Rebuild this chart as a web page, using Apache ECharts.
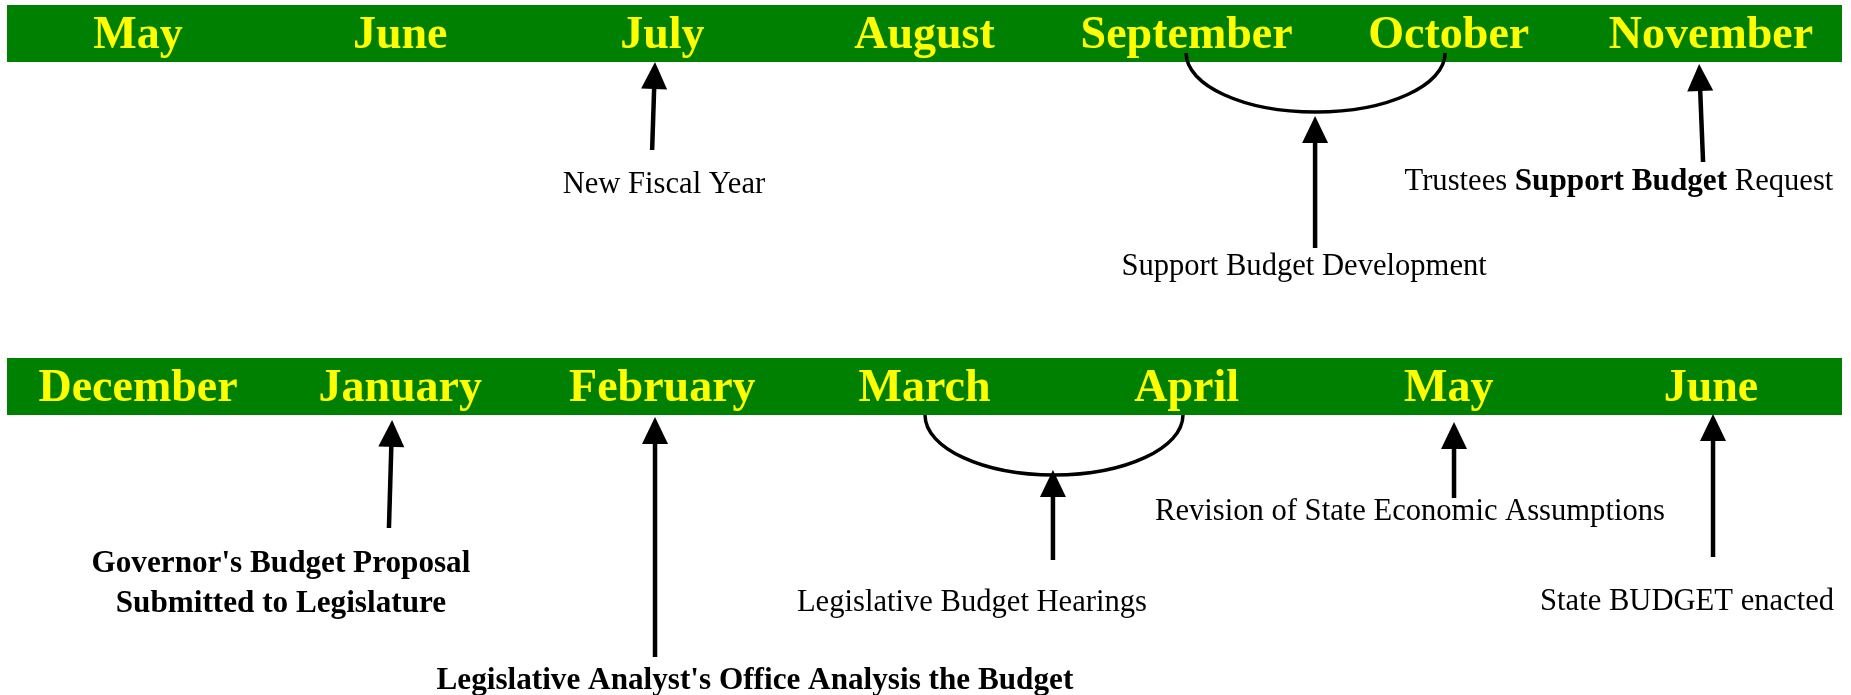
<!DOCTYPE html>
<html>
<head>
<meta charset="utf-8">
<script src="https://cdn.jsdelivr.net/npm/echarts@6/dist/echarts.min.js"></script>
<style>
html,body{margin:0;padding:0;background:#fff;}
#chart{width:1851px;height:695px;}
</style>
</head>
<body>
<div id="chart"></div>
<script>
// ---- data ----
const topMonths = ['May', 'June', 'July', 'August', 'September', 'October', 'November'];
const bottomMonths = ['December', 'January', 'February', 'March', 'April', 'May', 'June'];
const bandDepth = 57;

// arrows: [xTail (month index), yTail (depth), xTip, yTip]
const topArrows = [
  [1.961, 145, 1.972, 57],
  [4.49, 243, 4.49, 111],
  [5.97, 157, 5.955, 59]
];
const bottomArrows = [
  [0.957, 170, 0.969, 62],
  [1.972, 299, 1.972, 59],
  [3.49, 202, 3.49, 112],
  [5.02, 140, 5.02, 64],
  [6.008, 199, 6.008, 56]
];
// brackets: [xStart, xEnd, yTop, yBottom]
const topBrackets = [[3.998, 4.986, 48, 107]];
const bottomBrackets = [[3.002, 3.986, 57, 117]];
// labels: [x, y, text]
const topLabels = [
  [2.006, 178, 'New Fiscal Year'],
  [4.448, 260, 'Support Budget Development'],
  [5.649, 175, 'Trustees {b|Support Budget} Request']
];
const bottomLabels = [
  [0.545, 224, "{b|Governor's Budget Proposal}\n{b|Submitted to Legislature}"],
  [2.353, 321, "{b|Legislative Analyst's Office Analysis the Budget}"],
  [3.181, 243, 'Legislative Budget Hearings'],
  [4.852, 152, 'Revision of State Economic Assumptions'],
  [5.909, 242, 'State BUDGET enacted']
];

// ---- styles ----
const FONT = "'Liberation Serif', 'Times New Roman', serif";
const GREEN = '#008000';
const YELLOW = '#FFFF00';

function bandItem(params, api) {
  const a = api.coord([-0.5, 0]);
  const b = api.coord([6.5, api.value(0)]);
  return { type: 'rect', shape: { x: a[0], y: a[1], width: b[0] - a[0], height: b[1] - a[1] },
    style: { fill: GREEN } };
}

function arrowItem(params, api) {
  const t = api.coord([api.value(0), api.value(1)]);
  const h = api.coord([api.value(2), api.value(3)]);
  const dx = h[0] - t[0], dy = h[1] - t[1];
  const len = Math.hypot(dx, dy);
  const ux = dx / len, uy = dy / len;
  const L = 27, W = 13;
  const bx = h[0] - ux * L, by = h[1] - uy * L;
  return {
    type: 'group',
    children: [
      { type: 'line', shape: { x1: t[0], y1: t[1], x2: bx + ux * 3, y2: by + uy * 3 },
        style: { stroke: '#000', lineWidth: 4.5 } },
      { type: 'polygon', shape: { points: [[h[0], h[1]], [bx - uy * W, by + ux * W], [bx + uy * W, by - ux * W]] },
        style: { fill: '#000' } }
    ]
  };
}

function bracketItem(params, api) {
  const p1 = api.coord([api.value(0), api.value(2)]);
  const p2 = api.coord([api.value(1), api.value(2)]);
  const pb = api.coord([api.value(0), api.value(3)]);
  const x1 = p1[0], x2 = p2[0], y0 = p1[1], yb = pb[1];
  const cx = (x1 + x2) / 2, rx = (x2 - x1) / 2, ry = yb - y0, k = 0.5523;
  const d = 'M' + x1 + ' ' + y0 +
    ' C' + x1 + ' ' + (y0 + k * ry) + ' ' + (cx - k * rx) + ' ' + yb + ' ' + cx + ' ' + yb +
    ' C' + (cx + k * rx) + ' ' + yb + ' ' + x2 + ' ' + (y0 + k * ry) + ' ' + x2 + ' ' + y0;
  return { type: 'path', shape: { pathData: d }, style: { stroke: '#000', fill: 'none', lineWidth: 3.5 } };
}

function makeLabelItem(list) {
  return function (params, api) {
    const p = api.coord([api.value(0), api.value(1)]);
    return {
      type: 'text', x: p[0], y: p[1] + 2,
      style: {
        text: list[params.dataIndex][2],
        fill: '#000',
        fontFamily: FONT, fontSize: 30.6, lineHeight: 40,
        align: 'center', verticalAlign: 'middle',
        rich: {
          b: { fontFamily: FONT, fontSize: 31.2, fontWeight: 'bold', fill: '#000', lineHeight: 40 }
        }
      }
    };
  };
}

function rowSeries(gridIdx, months, arrows, brackets, labels) {
  const catAxis = gridIdx * 2, valAxis = gridIdx * 2 + 1;
  return [
    {
      type: 'custom', xAxisIndex: valAxis, yAxisIndex: gridIdx, z: 1, silent: true,
      renderItem: bandItem, data: [[bandDepth]], encode: { y: 0 }
    },
    {
      type: 'bar', xAxisIndex: catAxis, yAxisIndex: gridIdx, z: 3,
      data: months.map(() => bandDepth),
      barCategoryGap: '0%', silent: true,
      itemStyle: { color: 'rgba(0,0,0,0)' },
      label: {
        show: true, position: 'inside', formatter: '{b}', offset: [0, 3],
        color: YELLOW, fontFamily: FONT, fontWeight: 'bold', fontSize: 46
      }
    },
    {
      type: 'custom', xAxisIndex: valAxis, yAxisIndex: gridIdx, z: 5, silent: true,
      renderItem: bracketItem, data: brackets, encode: { x: [0, 1], y: [2, 3] }
    },
    {
      type: 'custom', xAxisIndex: valAxis, yAxisIndex: gridIdx, z: 5, silent: true,
      renderItem: arrowItem, data: arrows, encode: { x: [0, 2], y: [1, 3] }
    },
    {
      type: 'custom', xAxisIndex: valAxis, yAxisIndex: gridIdx, z: 5, silent: true,
      renderItem: makeLabelItem(labels), data: labels.map(l => [l[0], l[1]]), encode: { x: 0, y: 1 }
    }
  ];
}

const chart = echarts.init(document.getElementById('chart'), null, { renderer: 'canvas' });
chart.setOption({
  backgroundColor: '#fff',
  animation: false,
  grid: [
    { left: 7, right: 9, top: 5, height: 300 },
    { left: 7, right: 9, top: 358, height: 337 }
  ],
  xAxis: [
    { type: 'category', gridIndex: 0, data: topMonths, show: false },
    { type: 'value', gridIndex: 0, min: -0.5, max: 6.5, show: false },
    { type: 'category', gridIndex: 1, data: bottomMonths, show: false },
    { type: 'value', gridIndex: 1, min: -0.5, max: 6.5, show: false }
  ],
  yAxis: [
    { type: 'value', gridIndex: 0, min: 0, max: 300, inverse: true, show: false },
    { type: 'value', gridIndex: 1, min: 0, max: 337, inverse: true, show: false }
  ],
  series: [
    ...rowSeries(0, topMonths, topArrows, topBrackets, topLabels),
    ...rowSeries(1, bottomMonths, bottomArrows, bottomBrackets, bottomLabels)
  ]
});
</script>
</body>
</html>
